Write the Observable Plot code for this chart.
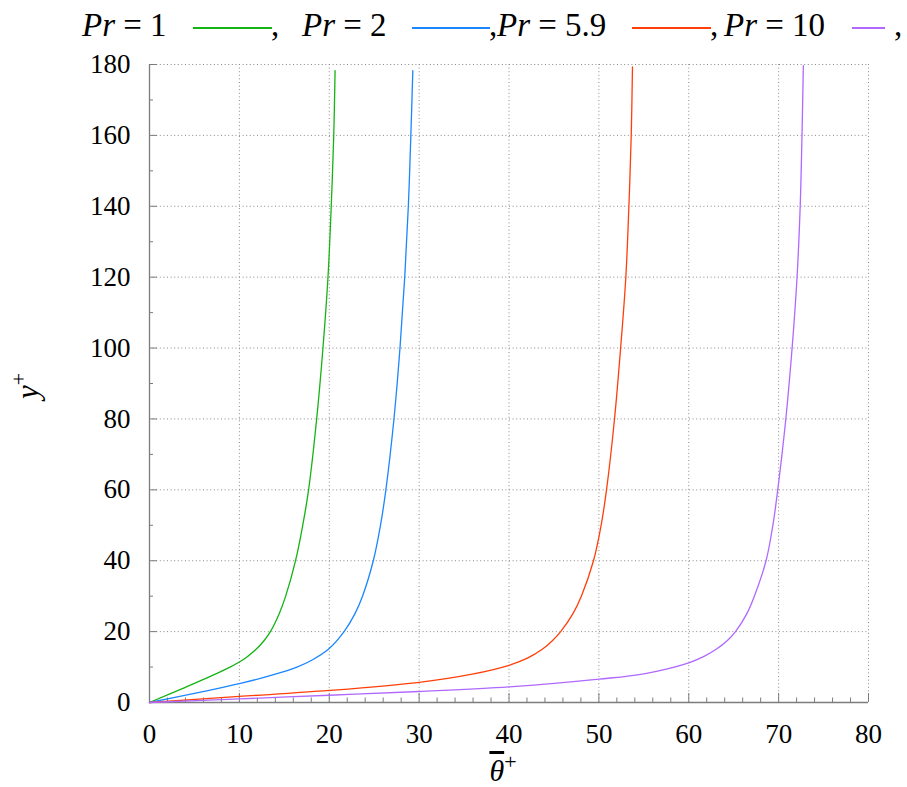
<!DOCTYPE html>
<html>
<head>
<meta charset="utf-8">
<script src="https://cdn.jsdelivr.net/npm/d3@7"></script>
<script src="https://cdn.jsdelivr.net/npm/@observablehq/plot@0.6"></script>
<style>
  html, body { margin: 0; padding: 0; background: #fff; }
  #wrap { width: 907px; font-family: "Liberation Serif", "DejaVu Serif", serif; }
  #legend { position: relative; height: 50px; width: 907px; font-size: 33px; color: #000; }
  #legend .lab { position: absolute; top: 7px; white-space: nowrap; line-height: 36px; }
  #legend .sw { position: absolute; top: 27px; height: 1.5px; display: block; }
  #legend .cm { position: absolute; top: 7px; line-height: 36px; }
</style>
</head>
<body>
<div id="wrap">
  <div id="legend"></div>
  <div id="chart"></div>
</div>
<script>
// ---------- data ----------
const seriesNames = ["Pr = 1", "Pr = 2", "Pr = 5.9", "Pr = 10"];
const seriesColors = ["#13b413", "#1a86ff", "#ff3f0a", "#b068ff"];

const yPr1     = [0, 4, 8, 10, 12.5, 15, 17.5, 20, 25, 30, 40, 50, 60, 80, 100, 120, 140, 160, 178.3];
const thetaPr1 = [0, 3.72, 7.32, 8.96, 10.66, 11.86, 12.76, 13.45, 14.42, 15.15, 16.25, 17.05, 17.7, 18.6, 19.3, 19.86, 20.22, 20.5, 20.65];

const yPr2     = [0, 2.6, 5.3, 8, 10, 12, 15, 20, 25, 30, 40, 50, 60, 80, 100, 120, 140, 160, 178.3];
const thetaPr2 = [0, 5, 10, 14, 16.4, 18.1, 19.9, 21.65, 22.85, 23.7, 24.9, 25.7, 26.3, 27.2, 27.87, 28.4, 28.8, 29.08, 29.3];

const yPr59     = [0, 1.7, 3.4, 5.7, 8, 10.5, 12.5, 15, 17.5, 20, 25, 30, 40, 50, 60, 80, 100, 120, 140, 160, 179.3];
const thetaPr59 = [0, 10, 20, 30, 35.9, 40, 42.05, 43.7, 44.85, 45.75, 47.1, 48.05, 49.4, 50.25, 50.85, 51.74, 52.42, 53.0, 53.34, 53.6, 53.74];

const yPr10     = [0, 1.0, 2.05, 3.1, 4.4, 6.6, 8.1, 11.2, 13, 15, 17.5, 20, 25, 30, 40, 50, 60, 80, 100, 120, 140, 160, 179.7];
const thetaPr10 = [0, 10, 20, 30, 40, 50, 55, 60, 61.7, 63.05, 64.3, 65.2, 66.45, 67.3, 68.6, 69.36, 69.9, 70.8, 71.5, 72.05, 72.4, 72.6, 72.75];

const xTicks = [0, 10, 20, 30, 40, 50, 60, 70, 80];
const yTicks = [0, 20, 40, 60, 80, 100, 120, 140, 160, 180];
const xMinorTicks = [2, 4, 6, 8, 12, 14, 16, 18, 22, 24, 26, 28, 32, 34, 36, 38, 42, 44, 46, 48, 52, 54, 56, 58, 62, 64, 66, 68, 72, 74, 76, 78];
const yMinorTicks = [10, 30, 50, 70, 90, 110, 130, 150, 170];

// ---------- build table ----------
const seriesTheta = [thetaPr1, thetaPr2, thetaPr59, thetaPr10];
const seriesY = [yPr1, yPr2, yPr59, yPr10];
const rows = [];
seriesNames.forEach((name, k) => {
  seriesTheta[k].forEach((t, i) => rows.push({series: name, theta: t, y: seriesY[k][i]}));
});

// ---------- legend (HTML, above the SVG) ----------
const legendLayout = [
  {text: 82, line: [193, 272], comma: 271},
  {text: 302, line: [412, 490], comma: 489},
  {text: 497, line: [632, 711], comma: 710},
  {text: 724, line: [852, 885], comma: 894}
];
const legend = document.getElementById("legend");
seriesNames.forEach((name, k) => {
  const L = legendLayout[k];
  const lab = document.createElement("span");
  lab.className = "lab";
  lab.style.left = L.text + "px";
  const [p, v] = name.split(" = ");
  lab.innerHTML = `<i>${p}</i> = ${v}`;
  legend.appendChild(lab);
  const sw = document.createElement("span");
  sw.className = "sw";
  sw.style.left = L.line[0] + "px";
  sw.style.width = (L.line[1] - L.line[0]) + "px";
  sw.style.background = seriesColors[k];
  legend.appendChild(sw);
  const cm = document.createElement("span");
  cm.className = "cm";
  cm.style.left = L.comma + "px";
  cm.textContent = ",";
  legend.appendChild(cm);
});

// ---------- chart ----------
const W = 907, H = 737, mT = 14, mL = 149, mR = 39, mB = 85;
const innerW = W - mL - mR, innerH = H - mT - mB;
const axisGray = "#7c7c7c";
const gridStyle = {stroke: "#8a8a8a", strokeOpacity: 1, strokeWidth: 1, strokeDasharray: "1 2.6"};
// inward ticks: full-frame rules inset down to a short stub at the axis
const tickX = (len) => ({stroke: axisGray, strokeWidth: 1, insetTop: innerH - len});
const tickY = (len) => ({stroke: axisGray, strokeWidth: 1, insetRight: innerW - len});

const chart = Plot.plot({
  width: W,
  height: H,
  marginTop: mT,
  marginLeft: mL,
  marginRight: mR,
  marginBottom: mB,
  style: {fontFamily: "Liberation Serif, DejaVu Serif, serif", fontSize: "27px", background: "#fff", color: "#000"},
  x: {domain: [0, 80]},
  y: {domain: [0, 180]},
  color: {domain: seriesNames, range: seriesColors},
  marks: [
    Plot.gridX(xTicks.slice(1), gridStyle),
    Plot.gridY(yTicks.slice(1), gridStyle),
    Plot.axisX(xTicks, {tickSize: 0, tickPadding: 21, label: null, fontSize: 27}),
    Plot.axisY(yTicks, {tickSize: 0, tickPadding: 19, label: null, fontSize: 27}),
    Plot.ruleX(xMinorTicks, tickX(4.5)),
    Plot.ruleX(xTicks, tickX(9)),
    Plot.ruleY(yMinorTicks, tickY(4)),
    Plot.ruleY(yTicks, tickY(8)),
    Plot.ruleX([0], {stroke: axisGray, strokeWidth: 1.3}),
    Plot.ruleY([0], {stroke: axisGray, strokeWidth: 1.3}),
    Plot.line(rows, {x: "theta", y: "y", z: "series", stroke: "series", strokeWidth: 1.3, curve: "catmull-rom"})
  ]
});

// axis titles as real text (SVG starts 50px below the page top)
const svg = d3.select(chart);
const yLab = svg.append("text")
  .attr("transform", "translate(38,336) rotate(-90)")
  .attr("text-anchor", "middle")
  .attr("font-family", "Liberation Serif, DejaVu Serif, serif")
  .attr("font-size", 31)
  .attr("fill", "#000");
yLab.append("tspan").attr("font-style", "italic").text("y");
yLab.append("tspan").attr("baseline-shift", "super").attr("font-size", 22).text("+");

const xLab = svg.append("text")
  .attr("x", 503)
  .attr("y", 731)
  .attr("text-anchor", "middle")
  .attr("font-family", "Liberation Serif, DejaVu Serif, serif")
  .attr("font-size", 30)
  .attr("fill", "#000");
xLab.append("tspan").attr("font-style", "italic").style("text-decoration", "overline").text("θ");
xLab.append("tspan").attr("baseline-shift", "super").attr("font-size", 22).text("+");

document.getElementById("chart").appendChild(chart);
</script>
</body>
</html>
